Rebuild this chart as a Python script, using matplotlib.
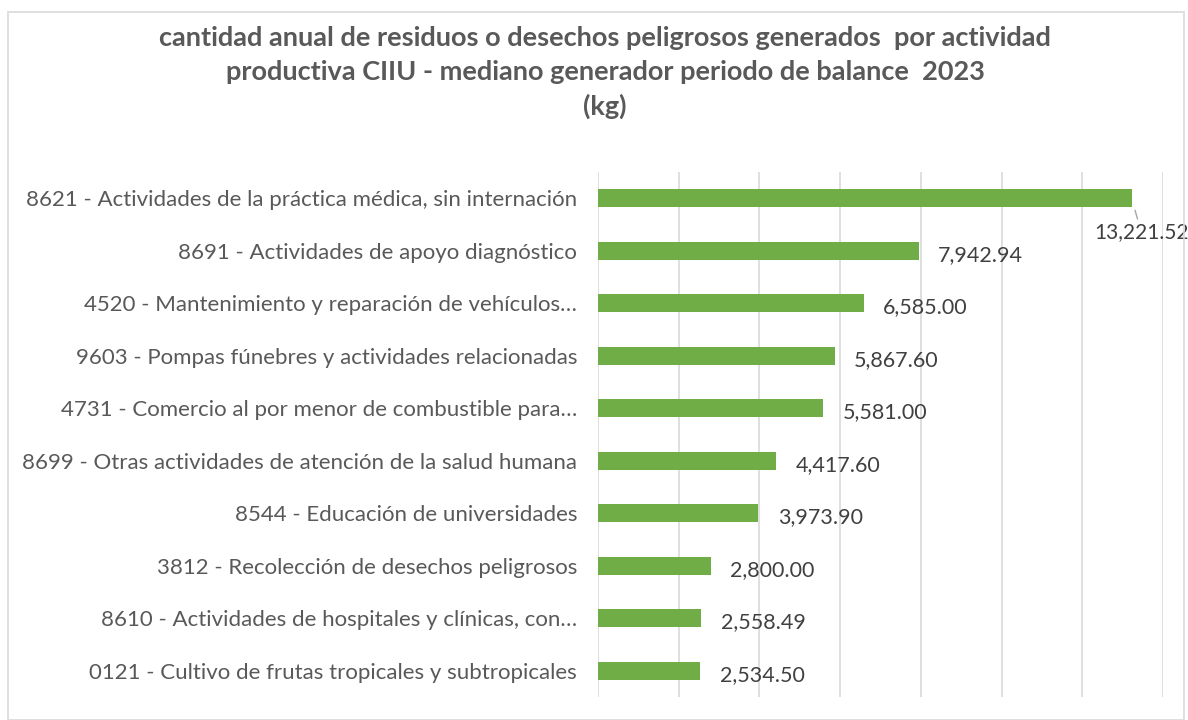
import numpy as np
import matplotlib.pyplot as plt

actividades = [
    '8621 - Actividades de la práctica médica, sin internación',
    '8691 - Actividades de apoyo diagnóstico',
    '4520 - Mantenimiento y reparación de vehículos…',
    '9603 - Pompas fúnebres y actividades relacionadas',
    '4731 - Comercio al por menor de combustible para…',
    '8699 - Otras actividades de atención de la salud humana',
    '8544 - Educación de universidades',
    '3812 - Recolección de desechos peligrosos',
    '8610 - Actividades de hospitales y clínicas, con…',
    '0121 - Cultivo de frutas tropicales y subtropicales',
]
cantidad_kg = [13221.52, 7942.94, 6585.00, 5867.60, 5581.00,
               4417.60, 3973.90, 2800.00, 2558.49, 2534.50]

titulo = ['cantidad anual de residuos o desechos peligrosos generados  por actividad',
          'productiva CIIU - mediano generador periodo de balance  2023',
          '(kg)']

plt.rcParams['font.family'] = ['Lato', 'DejaVu Sans']

fig = plt.figure(figsize=(11.88, 7.2), dpi=100)
ax = fig.add_axes([598/1188, 23/720, 565/1188, 525/720])

y = np.arange(len(actividades))
ax.barh(y, cantidad_kg, height=0.34, color='#70AD47', zorder=3)
ax.set_yticks(y)
ax.set_yticklabels(actividades, fontsize=16, color='#595959')
ax.set_ylim(len(actividades) - 0.5, -0.5)
ax.set_xlim(0, 14000)
ax.set_xticks(np.arange(0, 14001, 2000))
ax.set_xticklabels([])
ax.tick_params(axis='both', length=0, pad=15)
ax.grid(axis='x', color='#D9D9D9', linewidth=1.2, zorder=0)
for s in ax.spines.values():
    s.set_visible(False)

for i, v in enumerate(cantidad_kg):
    txt = f'{v:,.2f}'
    if i == 0:
        # etiqueta desplazada bajo la barra con linea guia
        ax.annotate(txt, xy=(v, i), xytext=(13460, i + 0.64),
                    fontsize=15, color='#404040', ha='center', va='center',
                    arrowprops=dict(arrowstyle='-', color='#A6A6A6', lw=1,
                                    shrinkA=0, shrinkB=9))
    else:
        ax.annotate(txt, xy=(v, i), xytext=(14, -3), textcoords='offset points',
                    fontsize=15.5, color='#404040', ha='left', va='center')

for k, linea in enumerate(titulo):
    fig.text(605/1188, 1 - (38 + 34 * k)/720, linea, ha='center', va='center',
             fontsize=19.5, fontweight='bold', color='#595959')

border = plt.Rectangle((8/1188, 0), 1176/1188, 1 - 12/720, transform=fig.transFigure,
                       fill=False, edgecolor='#D9D9D9', linewidth=1.2)
fig.patches.append(border)

fig.savefig('out.png', dpi=100)
